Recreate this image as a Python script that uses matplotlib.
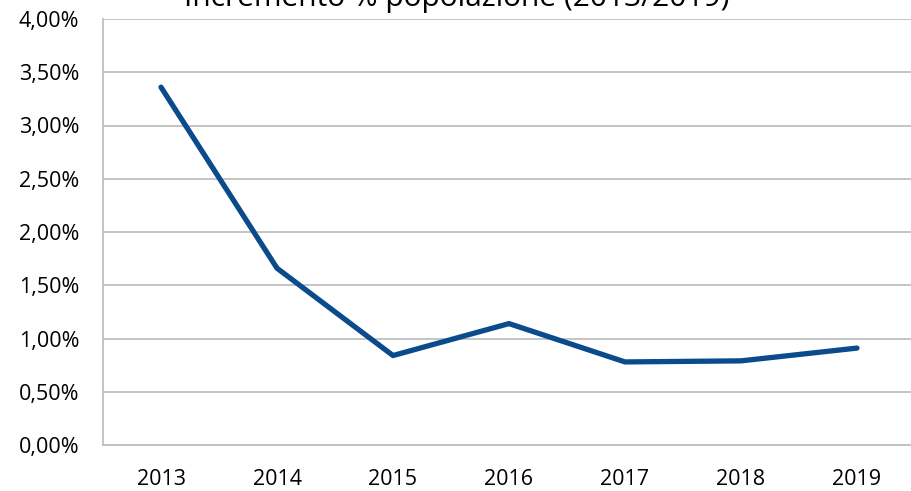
import numpy as np
import matplotlib.pyplot as plt

# dati
anni = ['2013', '2014', '2015', '2016', '2017', '2018', '2019']
incremento = [3.36, 1.66, 0.84, 1.14, 0.78, 0.79, 0.91]
y_ticks = [0, 0.5, 1.0, 1.5, 2.0, 2.5, 3.0, 3.5, 4.0]
titolo = 'Incremento % popolazione (2013/2019)'

plt.rcParams['font.family'] = ['Open Sans', 'DejaVu Sans']

W, H = 911, 491
fig = plt.figure(figsize=(W / 100, H / 100), dpi=100)
ax = fig.add_axes([103 / W, (H - 445) / H, (915 - 103) / W, (445 - 19) / H])

x = np.arange(len(anni))
ax.plot(x, incremento, color='#0B4A8B', lw=3.8, solid_capstyle='round',
        solid_joinstyle='round', zorder=3)

ax.set_xlim(-0.5, len(anni) - 0.5)
ax.set_ylim(0, 4.0)
ax.set_xticks(x)
ax.set_xticklabels(anni)
ax.set_yticks(y_ticks)
ax.yaxis.set_major_formatter(plt.FuncFormatter(lambda v, p: ('%.2f%%' % v).replace('.', ',')))

ax.grid(axis='y', color='#BFBFBF', lw=1.3)
ax.set_axisbelow(True)
for s in ['top', 'right']:
    ax.spines[s].set_visible(False)
for s in ['left', 'bottom']:
    ax.spines[s].set_color('#BFBFBF')
    ax.spines[s].set_linewidth(1.3)
ax.tick_params(axis='both', length=0, labelsize=15.5, colors='#000000')
ax.tick_params(axis='y', pad=17)
ax.tick_params(axis='x', pad=17)

fig.text(457 / W, 1 - 6 / H, titolo, ha='center', va='baseline', fontsize=21.5)

fig.savefig('out.png', dpi=100)
